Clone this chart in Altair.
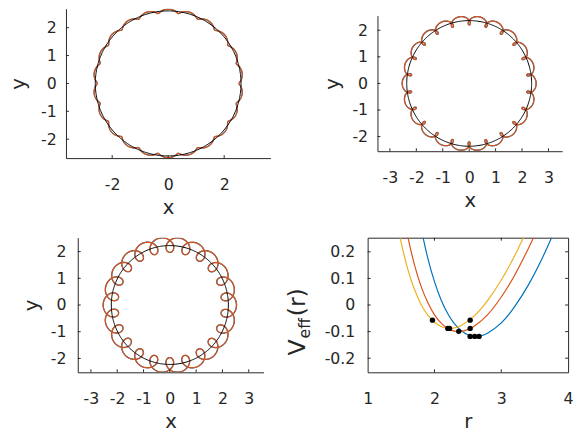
import numpy as np
import pandas as pd
import altair as alt

FONT = "DejaVu Sans"
TXT = "#262626"
AXC = "#262626"
BLUE, RED, YEL = "#0072BD", "#D95319", "#EDB120"

blue_r = [1.80, 1.90, 2.00, 2.10, 2.20, 2.30, 2.40, 2.50, 2.60, 2.70, 2.80, 3.00, 3.20, 3.40, 3.60, 3.80]
blue_v = [0.288, 0.176, 0.088, 0.019, -0.033, -0.071, -0.096, -0.112, -0.117, -0.115, -0.105,
          -0.067, -0.006, 0.073, 0.169, 0.280]
red_r = [1.55, 1.60, 1.70, 1.80, 1.90, 2.00, 2.10, 2.20, 2.30, 2.40, 2.50, 2.60, 2.80, 3.00, 3.20, 3.40, 3.50]
red_v = [0.322, 0.258, 0.152, 0.070, 0.009, -0.037, -0.068, -0.088, -0.098, -0.099, -0.092, -0.079,
         -0.035, 0.030, 0.112, 0.210, 0.263]
yel_r = [1.45, 1.50, 1.60, 1.70, 1.80, 1.90, 2.00, 2.10, 2.20, 2.30, 2.40, 2.60, 2.80, 3.00, 3.20, 3.40]
yel_v = [0.298, 0.236, 0.135, 0.059, 0.002, -0.038, -0.065, -0.081, -0.088, -0.086, -0.077, -0.040,
         0.018, 0.094, 0.185, 0.290]
dot_r = [1.970, 2.200, 2.225, 2.363, 2.534, 2.534, 2.534, 2.603, 2.667]
dot_v = [-0.057, -0.088, -0.088, -0.099, -0.057, -0.088, -0.118, -0.118, -0.118]

# ---------------- Orbit panels: radii (TL, TR, BL) ----------------
orbit_rmin = [2.534, 2.200, 1.970]
orbit_rmax = [2.667, 2.534, 2.534]
orbit_rstart = [2.534, 2.534, 2.534]
circle_r = [2.603, 2.363, 2.225]
loops_per_turn = [22, 22, 22]


def orbit_xy(rmin, rmax, rstart, n, phase=0.0, per=90):
    a = (rmin + rmax) / 2.0
    b = (rmax - rmin) / 2.0
    sgn = 1.0 if abs(rstart - rmax) < abs(rstart - rmin) else -1.0
    th = np.linspace(0.0, 2 * np.pi, n * per + 1)
    z = a * np.exp(1j * th) + sgn * b * np.exp(1j * ((n + 1) * th + phase))
    return z.real, z.imag


def axis(values, title, lab_pad, title_pad, domain=True):
    kw = dict(values=values, title=title, ticks=False, grid=False, domain=domain,
              domainColor=AXC, domainWidth=1, labelFont=FONT, labelFontSize=16,
              labelColor=TXT, labelPadding=lab_pad, labelExpr="toString(datum.value)",
              labelFlush=False, labelOverlap=False, titleFont=FONT, titleFontSize=20,
              titleFontWeight="normal", titleColor=TXT, titlePadding=title_pad)
    return alt.Axis(**kw)


def tick_layers(xs, ys, xa, ya, xticks, yticks, w, h, mirror=False):
    layers = []
    tx = pd.DataFrame({"t": xticks})
    ty = pd.DataFrame({"t": yticks})
    layers.append(alt.Chart(tx).mark_rule(color=AXC, strokeWidth=1).encode(
        x=alt.X("t:Q", scale=xs, axis=xa), y=alt.value(h), y2=alt.value(h - 3)))
    layers.append(alt.Chart(ty).mark_rule(color=AXC, strokeWidth=1).encode(
        y=alt.Y("t:Q", scale=ys, axis=ya), x=alt.value(0), x2=alt.value(3)))
    if mirror:
        layers.append(alt.Chart(tx).mark_rule(color=AXC, strokeWidth=1).encode(
            x=alt.X("t:Q", scale=xs, axis=xa), y=alt.value(0), y2=alt.value(3)))
        layers.append(alt.Chart(ty).mark_rule(color=AXC, strokeWidth=1).encode(
            y=alt.Y("t:Q", scale=ys, axis=ya), x=alt.value(w), x2=alt.value(w - 3)))
    return layers


def anchor(xpx):
    # invisible element that fixes where a panel's left bound lies
    return alt.Chart(pd.DataFrame({"a": [0]})).mark_rule(strokeOpacity=0, strokeWidth=1).encode(
        x=alt.value(xpx), x2=alt.value(xpx + 1), y=alt.value(20))


def spacer(w):
    return alt.Chart(pd.DataFrame({"a": [0]})).mark_rule(strokeOpacity=0).encode(
        x=alt.value(0), x2=alt.value(w), y=alt.value(0)).properties(width=w, height=1)


def orbit_panel(k, w, h, xdom, ydom, xticks, yticks, ylab_pad, ytitle_pad, left):
    xs = alt.Scale(domain=xdom, nice=False, zero=False)
    ys = alt.Scale(domain=ydom, nice=False, zero=False)
    xa = axis(xticks, "x", 19, 5)
    ya = axis(yticks, "y", ylab_pad, ytitle_pad)
    bx, by = orbit_xy(orbit_rmin[k], orbit_rmax[k], orbit_rstart[k], loops_per_turn[k], phase=0.05)
    rx, ry = orbit_xy(orbit_rmin[k], orbit_rmax[k], orbit_rstart[k], loops_per_turn[k])
    ang = np.linspace(0, 2 * np.pi, 361)
    dfb = pd.DataFrame({"x": bx, "y": by, "i": np.arange(len(bx))})
    dfr = pd.DataFrame({"x": rx, "y": ry, "i": np.arange(len(rx))})
    dfc = pd.DataFrame({"x": circle_r[k] * np.cos(ang), "y": circle_r[k] * np.sin(ang),
                        "i": np.arange(len(ang))})
    enc = dict(x=alt.X("x:Q", scale=xs, axis=xa), y=alt.Y("y:Q", scale=ys, axis=ya),
               order=alt.Order("i:Q"))
    lb = alt.Chart(dfb).mark_line(color=BLUE, strokeWidth=1.3, clip=True).encode(**enc)
    lr = alt.Chart(dfr).mark_line(color=RED, strokeWidth=1.3, clip=True).encode(**enc)
    lc = alt.Chart(dfc).mark_line(color="black", strokeWidth=1, clip=True).encode(**enc)
    layers = [lb, lr, lc] + tick_layers(xs, ys, xa, ya, xticks, yticks, w, h) + [anchor(left)]
    return alt.layer(*layers).properties(width=w, height=h)


TL = orbit_panel(0, 208, 152, [-3.65, 3.65], [-2.68, 2.68], [-2, 0, 2], [-2, -1, 0, 1, 2],
                 10, 12, -61)
TR = orbit_panel(1, 188, 138, [-3.47, 3.52], [-2.55, 2.55], [-3, -2, -1, 0, 1, 2, 3],
                 [-2, -1, 0, 1, 2], 10, 10, -61)
BL = orbit_panel(2, 189, 137, [-3.5, 3.56], [-2.52, 2.52], [-3, -2, -1, 0, 1, 2, 3],
                 [-2, -1, 0, 1, 2], 12, 9, -66)

# ---------------- Bottom-right: effective potential ----------------
W4, H4 = 204, 137
xs4 = alt.Scale(domain=[1, 4], nice=False, zero=False)
ys4 = alt.Scale(domain=[-0.253, 0.253], nice=False, zero=False)
xa4 = axis([1, 2, 3, 4], "r", 19, 5, domain=False)
ya4 = axis([-0.2, -0.1, 0, 0.1, 0.2], "", 13, 0, domain=False)
dfv = pd.concat([
    pd.DataFrame({"r": blue_r, "v": blue_v, "s": "a"}),
    pd.DataFrame({"r": red_r, "v": red_v, "s": "b"}),
    pd.DataFrame({"r": yel_r, "v": yel_v, "s": "c"}),
])
curves = alt.Chart(dfv).mark_line(strokeWidth=1.2, clip=True, interpolate="natural").encode(
    x=alt.X("r:Q", scale=xs4, axis=xa4), y=alt.Y("v:Q", scale=ys4, axis=ya4),
    color=alt.Color("s:N", scale=alt.Scale(domain=["a", "b", "c"], range=[BLUE, RED, YEL]),
                    legend=None),
    detail="s:N")
dots = alt.Chart(pd.DataFrame({"r": dot_r, "v": dot_v})).mark_circle(
    color="black", size=30, opacity=1).encode(
    x=alt.X("r:Q", scale=xs4, axis=xa4), y=alt.Y("v:Q", scale=ys4, axis=ya4))
t_v = alt.Chart(pd.DataFrame({"t": ["V"]})).mark_text(
    angle=270, align="left", baseline="alphabetic", font=FONT, fontSize=24, color=TXT).encode(
    text="t:N", x=alt.value(-64), y=alt.value(120))
t_eff = alt.Chart(pd.DataFrame({"t": ["eff"]})).mark_text(
    angle=270, align="left", baseline="alphabetic", font=FONT, fontSize=16, color=TXT).encode(
    text="t:N", x=alt.value(-59), y=alt.value(102.6))
t_r = alt.Chart(pd.DataFrame({"t": ["(r)"]})).mark_text(
    angle=270, align="left", baseline="alphabetic", font=FONT, fontSize=24, color=TXT).encode(
    text="t:N", x=alt.value(-64), y=alt.value(80))
BR = alt.layer(curves, dots, *tick_layers(xs4, ys4, xa4, ya4, [2, 3],
                                          [-0.2, -0.1, 0, 0.1, 0.2], W4, H4, mirror=True),
               t_v, t_eff, t_r, anchor(-86)).properties(
    width=W4, height=H4, view=alt.ViewBackground(stroke=AXC, strokeWidth=1))

row1 = alt.hconcat(spacer(1), alt.hconcat(TL, TR, spacing=48, center=True), spacing=0)
row2 = alt.hconcat(spacer(8), alt.hconcat(BL, BR, spacing=19), spacing=0)
chart = alt.vconcat(row1, row2, spacing=20).properties(
    padding={"left": -3, "top": -3, "right": 0, "bottom": -3}
).configure_view(strokeWidth=0)

chart.save("out.html", embed_options={"renderer": "svg", "actions": False})
